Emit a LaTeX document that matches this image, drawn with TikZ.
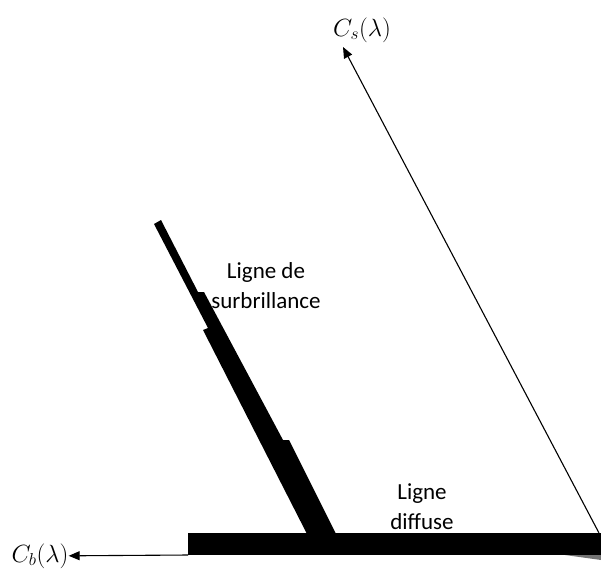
\documentclass[tikz,border=0pt]{standalone}
\usepackage{fontspec}
\setmainfont{Carlito}
\usetikzlibrary{arrows.meta, positioning}

\tikzset{
  lbl/.style={font=\fontsize{23}{30}\selectfont, align=center, inner sep=0pt},
  ray/.style={line width=1.1pt, -{Triangle[length=11pt, width=9pt]}},
}

\begin{document}
\begin{tikzpicture}[x=1pt, y=-1pt]
  \useasboundingbox (0,0) rectangle (601,570);

  % Ligne diffuse (barre horizontale)
  \fill (188,533) rectangle (601,555);
  \fill[black!55] (565,555) -- (601,555) -- (601,560) -- cycle;

  % Ligne de surbrillance (bande oblique en escalier)
  \fill (154,224) -- (161,220) -- (198,292) -- (204,292) -- (283,440)
    -- (289,440) -- (336,534) -- (307,534) -- (203,330) -- (208,328) -- cycle;

  % Textes
  \node[lbl] (surb) at (266,286) {Ligne de\\surbrillance};
  \node[lbl] (diff) at (422,507) {Ligne\\diffuse};
  \node[lbl] (cb) at (40,556) {$C_b(\lambda)$};
  \node[lbl] (cs) at (362,30) {$C_s(\lambda)$};

  % Rayons
  \coordinate (barleft) at (188,555);
  \coordinate (barright) at (599,533);
  \coordinate (cstip) at (343,47);
  \draw[ray] (barleft) -- (cb);
  \draw[ray] (barright) -- (cstip);
\end{tikzpicture}
\end{document}
